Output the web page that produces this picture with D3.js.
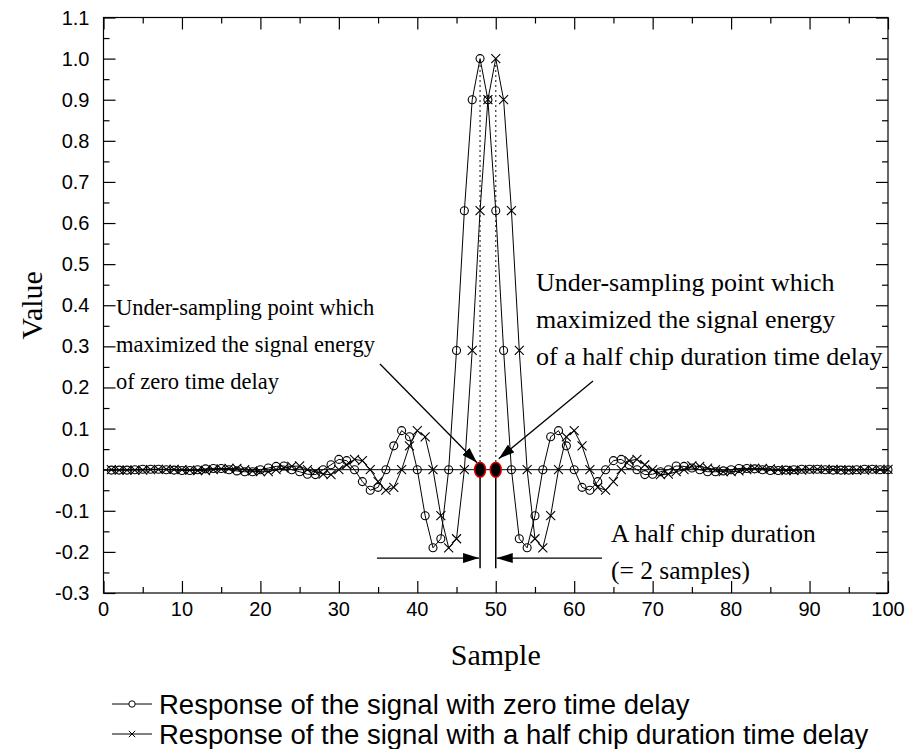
<!DOCTYPE html>
<html>
<head>
<meta charset="utf-8">
<script src="https://cdn.jsdelivr.net/npm/d3@7"></script>
<style>
  body { margin: 0; background: #fff; }
  text { fill: #000; }
</style>
</head>
<body>
<svg width="911" height="749"></svg>
<script>
// Sample index (x) shared by both series.
var samples = d3.range(1, 101);

// Response of the signal with zero time delay (circles).
var zeroDelay = [
  -0.001, -0.001, -0.001, 0, 0.001, 0.001, 0.001, 0, -0.001, -0.002,
  -0.002, 0, 0.002, 0.003, 0.003, 0, -0.003, -0.005, -0.005, 0,
  0.004, 0.008, 0.009, 0, -0.005, -0.011, -0.012, 0, 0.012, 0.025,
  0.022, 0, -0.029, -0.05, -0.043, 0, 0.058, 0.095, 0.08, 0,
  -0.112, -0.19, -0.168, 0, 0.29, 0.63, 0.9, 1.0, 0.9, 0.63,
  0.29, 0, -0.168, -0.19, -0.112, 0, 0.08, 0.095, 0.058, 0,
  -0.043, -0.05, -0.029, 0, 0.022, 0.025, 0.012, 0, -0.012, -0.011,
  -0.005, 0, 0.009, 0.008, 0.004, 0, -0.005, -0.005, -0.003, 0,
  0.003, 0.003, 0.002, 0, -0.002, -0.002, -0.001, 0, 0.001, 0.001,
  0.001, 0, -0.001, -0.001, -0.001, 0, 0.001, 0.001, 0, 0
];

// Response of the signal with a half chip duration time delay (crosses).
var halfChipDelay = [
  0, -0.001, -0.001, -0.001, -0.001, 0, 0.001, 0.001, 0.001, 0,
  -0.001, -0.002, -0.002, 0, 0.002, 0.003, 0.003, 0, -0.003, -0.005,
  -0.005, 0, 0.004, 0.008, 0.009, 0, -0.005, -0.011, -0.012, 0,
  0.012, 0.025, 0.022, 0, -0.029, -0.05, -0.043, 0, 0.058, 0.095,
  0.08, 0, -0.112, -0.19, -0.168, 0, 0.29, 0.63, 0.9, 1.0,
  0.9, 0.63, 0.29, 0, -0.168, -0.19, -0.112, 0, 0.08, 0.095,
  0.058, 0, -0.043, -0.05, -0.029, 0, 0.022, 0.025, 0.012, 0,
  -0.012, -0.011, -0.005, 0, 0.009, 0.008, 0.004, 0, -0.005, -0.005,
  -0.003, 0, 0.003, 0.003, 0.002, 0, -0.002, -0.002, -0.001, 0,
  0.001, 0.001, 0.001, 0, -0.001, -0.001, -0.001, 0, 0.001, 0.001
];

// Tick values.
var xTicks = [0, 10, 20, 30, 40, 50, 60, 70, 80, 90, 100];
var xMinorTicks = [5, 15, 25, 35, 45, 55, 65, 75, 85, 95];
var yTicks = [-0.3, -0.2, -0.1, 0.0, 0.1, 0.2, 0.3, 0.4, 0.5, 0.6, 0.7, 0.8, 0.9, 1.0, 1.1];
var yMinorTicks = [-0.25, -0.15, -0.05, 0.05, 0.15, 0.25, 0.35, 0.45, 0.55, 0.65, 0.75, 0.85, 0.95, 1.05];

// Under-sampling points (sample numbers) and peak value.
var samplingPoints = [48, 50];
var peakValue = 1.0;

var legendLabels = [
  "Response of the signal with zero time delay",
  "Response of the signal with a half chip duration time delay"
];

var svg = d3.select("svg");
var plotLeft = 103.5, plotRight = 888, plotTop = 17.5, plotBottom = 593;

var x = d3.scaleLinear().domain([0, 100]).range([plotLeft, plotRight]);
var y = d3.scaleLinear().domain([-0.3, 1.1]).range([plotBottom, plotTop]);

var sansFont = "'Liberation Sans', Arial, sans-serif";
var serifFont = "'Liberation Serif', 'Times New Roman', serif";

// Arrowhead marker.
svg.append("defs").append("marker")
    .attr("id", "arrow")
    .attr("viewBox", "0 0 16 10")
    .attr("refX", 16).attr("refY", 5)
    .attr("markerWidth", 16).attr("markerHeight", 10)
    .attr("markerUnits", "userSpaceOnUse")
    .attr("orient", "auto")
  .append("path")
    .attr("d", "M0,0L16,5L0,10Z")
    .attr("fill", "#000");

// Frame.
svg.append("rect")
    .attr("x", plotLeft).attr("y", plotTop)
    .attr("width", plotRight - plotLeft).attr("height", plotBottom - plotTop)
    .attr("fill", "none").attr("stroke", "#000").attr("stroke-width", 1.2);

// Axes with inward ticks on all four sides.
function noLabel() { return ""; }
svg.append("g").attr("transform", "translate(0," + plotBottom + ")")
    .call(d3.axisBottom(x).tickValues(xTicks).tickSize(-12).tickFormat(noLabel));
svg.append("g").attr("transform", "translate(0," + plotBottom + ")")
    .call(d3.axisBottom(x).tickValues(xMinorTicks).tickSize(-6).tickFormat(noLabel));
svg.append("g").attr("transform", "translate(0," + plotTop + ")")
    .call(d3.axisTop(x).tickValues(xTicks).tickSize(-12).tickFormat(noLabel));
svg.append("g").attr("transform", "translate(0," + plotTop + ")")
    .call(d3.axisTop(x).tickValues(xMinorTicks).tickSize(-6).tickFormat(noLabel));
svg.append("g").attr("transform", "translate(" + plotLeft + ",0)")
    .call(d3.axisLeft(y).tickValues(yTicks).tickSize(-12).tickFormat(noLabel));
svg.append("g").attr("transform", "translate(" + plotLeft + ",0)")
    .call(d3.axisLeft(y).tickValues(yMinorTicks).tickSize(-6).tickFormat(noLabel));
svg.append("g").attr("transform", "translate(" + plotRight + ",0)")
    .call(d3.axisRight(y).tickValues(yTicks).tickSize(-12).tickFormat(noLabel));
svg.append("g").attr("transform", "translate(" + plotRight + ",0)")
    .call(d3.axisRight(y).tickValues(yMinorTicks).tickSize(-6).tickFormat(noLabel));
svg.selectAll(".domain").remove();
svg.selectAll(".tick line").attr("stroke", "#000").attr("stroke-width", 1.2);

// Tick labels.
svg.append("g").selectAll("text").data(xTicks).join("text")
    .attr("x", function (d) { return x(d); })
    .attr("y", plotBottom + 23)
    .attr("text-anchor", "middle")
    .attr("font-family", sansFont).attr("font-size", 20)
    .text(function (d) { return d; });
svg.append("g").selectAll("text").data(yTicks).join("text")
    .attr("x", plotLeft - 14)
    .attr("y", function (d) { return y(d) + 7; })
    .attr("text-anchor", "end")
    .attr("font-family", sansFont).attr("font-size", 20)
    .text(function (d) { return d.toFixed(1); });

// Axis titles.
svg.append("text")
    .attr("x", (plotLeft + plotRight) / 2).attr("y", 665)
    .attr("text-anchor", "middle")
    .attr("font-family", serifFont).attr("font-size", 30)
    .text("Sample");
svg.append("text")
    .attr("transform", "translate(42," + (plotTop + plotBottom) / 2 + ") rotate(-90)")
    .attr("text-anchor", "middle")
    .attr("font-family", serifFont).attr("font-size", 30)
    .text("Value");

var plot = svg.append("g");

// Zero reference line.
plot.append("line")
    .attr("x1", x(0)).attr("x2", x(100))
    .attr("y1", y(0)).attr("y2", y(0))
    .attr("stroke", "#000").attr("stroke-width", 1);

var line = d3.line()
    .x(function (d, i) { return x(samples[i]); })
    .y(function (d) { return y(d); });

plot.append("path").datum(zeroDelay)
    .attr("d", line).attr("fill", "none").attr("stroke", "#000").attr("stroke-width", 1);
plot.append("path").datum(halfChipDelay)
    .attr("d", line).attr("fill", "none").attr("stroke", "#000").attr("stroke-width", 1);

// Cross markers.
var cross = "M-4.5,-4.5L4.5,4.5M-4.5,4.5L4.5,-4.5";
plot.append("g").selectAll("path").data(halfChipDelay).join("path")
    .attr("transform", function (d, i) { return "translate(" + x(samples[i]) + "," + y(d) + ")"; })
    .attr("d", cross).attr("fill", "none").attr("stroke", "#000").attr("stroke-width", 1.1);

// Circle markers.
plot.append("g").selectAll("circle").data(zeroDelay).join("circle")
    .attr("cx", function (d, i) { return x(samples[i]); })
    .attr("cy", function (d) { return y(d); })
    .attr("r", 4)
    .attr("fill", "none").attr("stroke", "#000").attr("stroke-width", 1.1);

// Dotted lines from the under-sampling points up to the peaks.
plot.append("g").selectAll("line").data(samplingPoints).join("line")
    .attr("x1", function (d) { return x(d); }).attr("x2", function (d) { return x(d); })
    .attr("y1", y(0) - 8).attr("y2", y(peakValue) + 5)
    .attr("stroke", "#000").attr("stroke-width", 1.3)
    .attr("stroke-dasharray", "1.5,3.5");

// Solid lines below the under-sampling points.
plot.append("g").selectAll("line").data(samplingPoints).join("line")
    .attr("x1", function (d) { return x(d); }).attr("x2", function (d) { return x(d); })
    .attr("y1", y(0)).attr("y2", y(-0.24))
    .attr("stroke", "#000").attr("stroke-width", 1.5);

// Red-outlined under-sampling points.
plot.append("g").selectAll("ellipse").data(samplingPoints).join("ellipse")
    .attr("cx", function (d) { return x(d); })
    .attr("cy", y(0))
    .attr("rx", 5.5).attr("ry", 7.5)
    .attr("fill", "#000").attr("stroke", "#e00000").attr("stroke-width", 1.5);

// Annotation arrows.
function arrow(x1, y1, x2, y2) {
  svg.append("line")
      .attr("x1", x1).attr("y1", y1).attr("x2", x2).attr("y2", y2)
      .attr("stroke", "#000").attr("stroke-width", 1.3)
      .attr("marker-end", "url(#arrow)");
}
arrow(380, 364, x(48) - 3, y(0) - 7);
arrow(593, 381, x(50) + 3, y(0) - 11);
arrow(377, y(-0.215), x(48) - 1, y(-0.215));
arrow(602, y(-0.215), x(50) + 1, y(-0.215));

// Annotation texts.
function textBlock(lines, x0, y0, dy, size) {
  svg.append("g").selectAll("text").data(lines).join("text")
      .attr("x", x0)
      .attr("y", function (d, i) { return y0 + i * dy; })
      .attr("font-family", serifFont).attr("font-size", size)
      .text(function (d) { return d; });
}
textBlock(["Under-sampling point which", "maximized the signal energy", "of zero time delay"], 116, 315, 37, 22.5);
textBlock(["Under-sampling point which", "maximized the signal energy", "of a half chip duration time delay"], 536, 291, 37, 26);
textBlock(["A half chip duration", "(= 2 samples)"], 611, 542, 37, 25.5);

// Legend.
var legend = svg.append("g");
var legendY = [704, 734];
legendLabels.forEach(function (label, i) {
  var g = legend.append("g").attr("transform", "translate(0," + legendY[i] + ")");
  g.append("line").attr("x1", 112).attr("x2", 152).attr("y1", 0).attr("y2", 0)
      .attr("stroke", "#000").attr("stroke-width", 1);
  if (i === 0) {
    g.append("circle").attr("cx", 132).attr("cy", 0).attr("r", 3.2)
        .attr("fill", "#fff").attr("stroke", "#000").attr("stroke-width", 1);
  } else {
    g.append("path").attr("transform", "translate(132,0)")
        .attr("d", "M-3.2,-3.2L3.2,3.2M-3.2,3.2L3.2,-3.2")
        .attr("stroke", "#000").attr("stroke-width", 1);
  }
  g.append("text").attr("x", 159).attr("y", 9.5)
      .attr("font-family", sansFont).attr("font-size", 27.5)
      .text(label);
});
</script>
</body>
</html>
